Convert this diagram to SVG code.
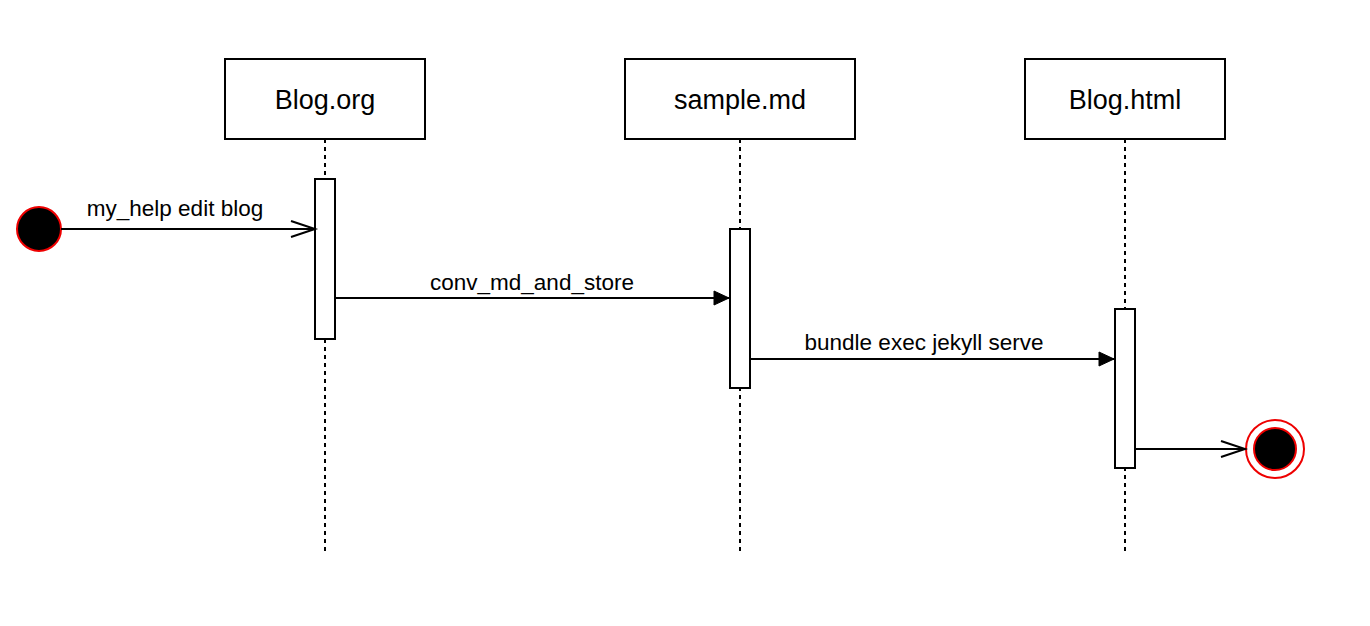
<svg xmlns="http://www.w3.org/2000/svg" width="1370" height="626" viewBox="0 0 1370 626">
<style>
.box{fill:#fff;stroke:#000;stroke-width:2}
.life{stroke:#000;stroke-width:2;stroke-dasharray:4 4;fill:none}
.act{fill:#fff;stroke:#000;stroke-width:2}
.msg{stroke:#000;stroke-width:2;fill:none}
.title{font-family:"Liberation Sans",Arial,sans-serif;font-size:27px;fill:#000;text-anchor:middle}
.lbl{font-family:"Liberation Sans",Arial,sans-serif;font-size:22.5px;fill:#000;text-anchor:middle}
</style>
<defs>
<marker id="open" markerWidth="30" markerHeight="20" refX="26" refY="10" orient="auto" markerUnits="userSpaceOnUse">
<path d="M2,2 L26,10 L2,18" fill="none" stroke="#000" stroke-width="2"/>
</marker>
<marker id="filled" markerWidth="20" markerHeight="16" refX="16" refY="8" orient="auto" markerUnits="userSpaceOnUse">
<path d="M1,1 L16,8 L1,15 Z" fill="#000" stroke="#000" stroke-width="1"/>
</marker>
</defs>
<rect width="1370" height="626" fill="#fff"/>
<g id="lifelines">
<line class="life" x1="325" y1="139" x2="325" y2="553"/>
<line class="life" x1="740" y1="139" x2="740" y2="553"/>
<line class="life" x1="1125" y1="139" x2="1125" y2="553"/>
</g>
<g id="node-blog-org">
<rect class="box" x="225" y="59" width="200" height="80"/>
<text class="title" x="325" y="109">Blog.org</text>
</g>
<g id="node-sample-md">
<rect class="box" x="625" y="59" width="230" height="80"/>
<text class="title" x="740" y="109">sample.md</text>
</g>
<g id="node-blog-html">
<rect class="box" x="1025" y="59" width="200" height="80"/>
<text class="title" x="1125" y="109">Blog.html</text>
</g>
<g id="activations">
<rect class="act" x="315" y="179" width="20" height="160"/>
<rect class="act" x="730" y="229" width="20" height="159"/>
<rect class="act" x="1115" y="309" width="20" height="159"/>
</g>
<g id="node-start">
<circle cx="39" cy="229" r="22" fill="#000" stroke="#e00" stroke-width="2"/>
</g>
<g id="node-end">
<circle cx="1275" cy="449" r="29" fill="#fff" stroke="#e00" stroke-width="2"/>
<circle cx="1275" cy="449" r="21" fill="#000" stroke="#e00" stroke-width="2"/>
</g>
<g id="connectors">
<line class="msg" x1="61" y1="229" x2="315" y2="229" marker-end="url(#open)"/>
<text class="lbl" x="175" y="216">my_help edit blog</text>
<line class="msg" x1="335" y1="298" x2="729" y2="298" marker-end="url(#filled)"/>
<text class="lbl" x="532" y="290">conv_md_and_store</text>
<line class="msg" x1="750" y1="359" x2="1114" y2="359" marker-end="url(#filled)"/>
<text class="lbl" x="924" y="350">bundle exec jekyll serve</text>
<line class="msg" x1="1135" y1="449" x2="1245" y2="449" marker-end="url(#open)"/>
</g>
</svg>
